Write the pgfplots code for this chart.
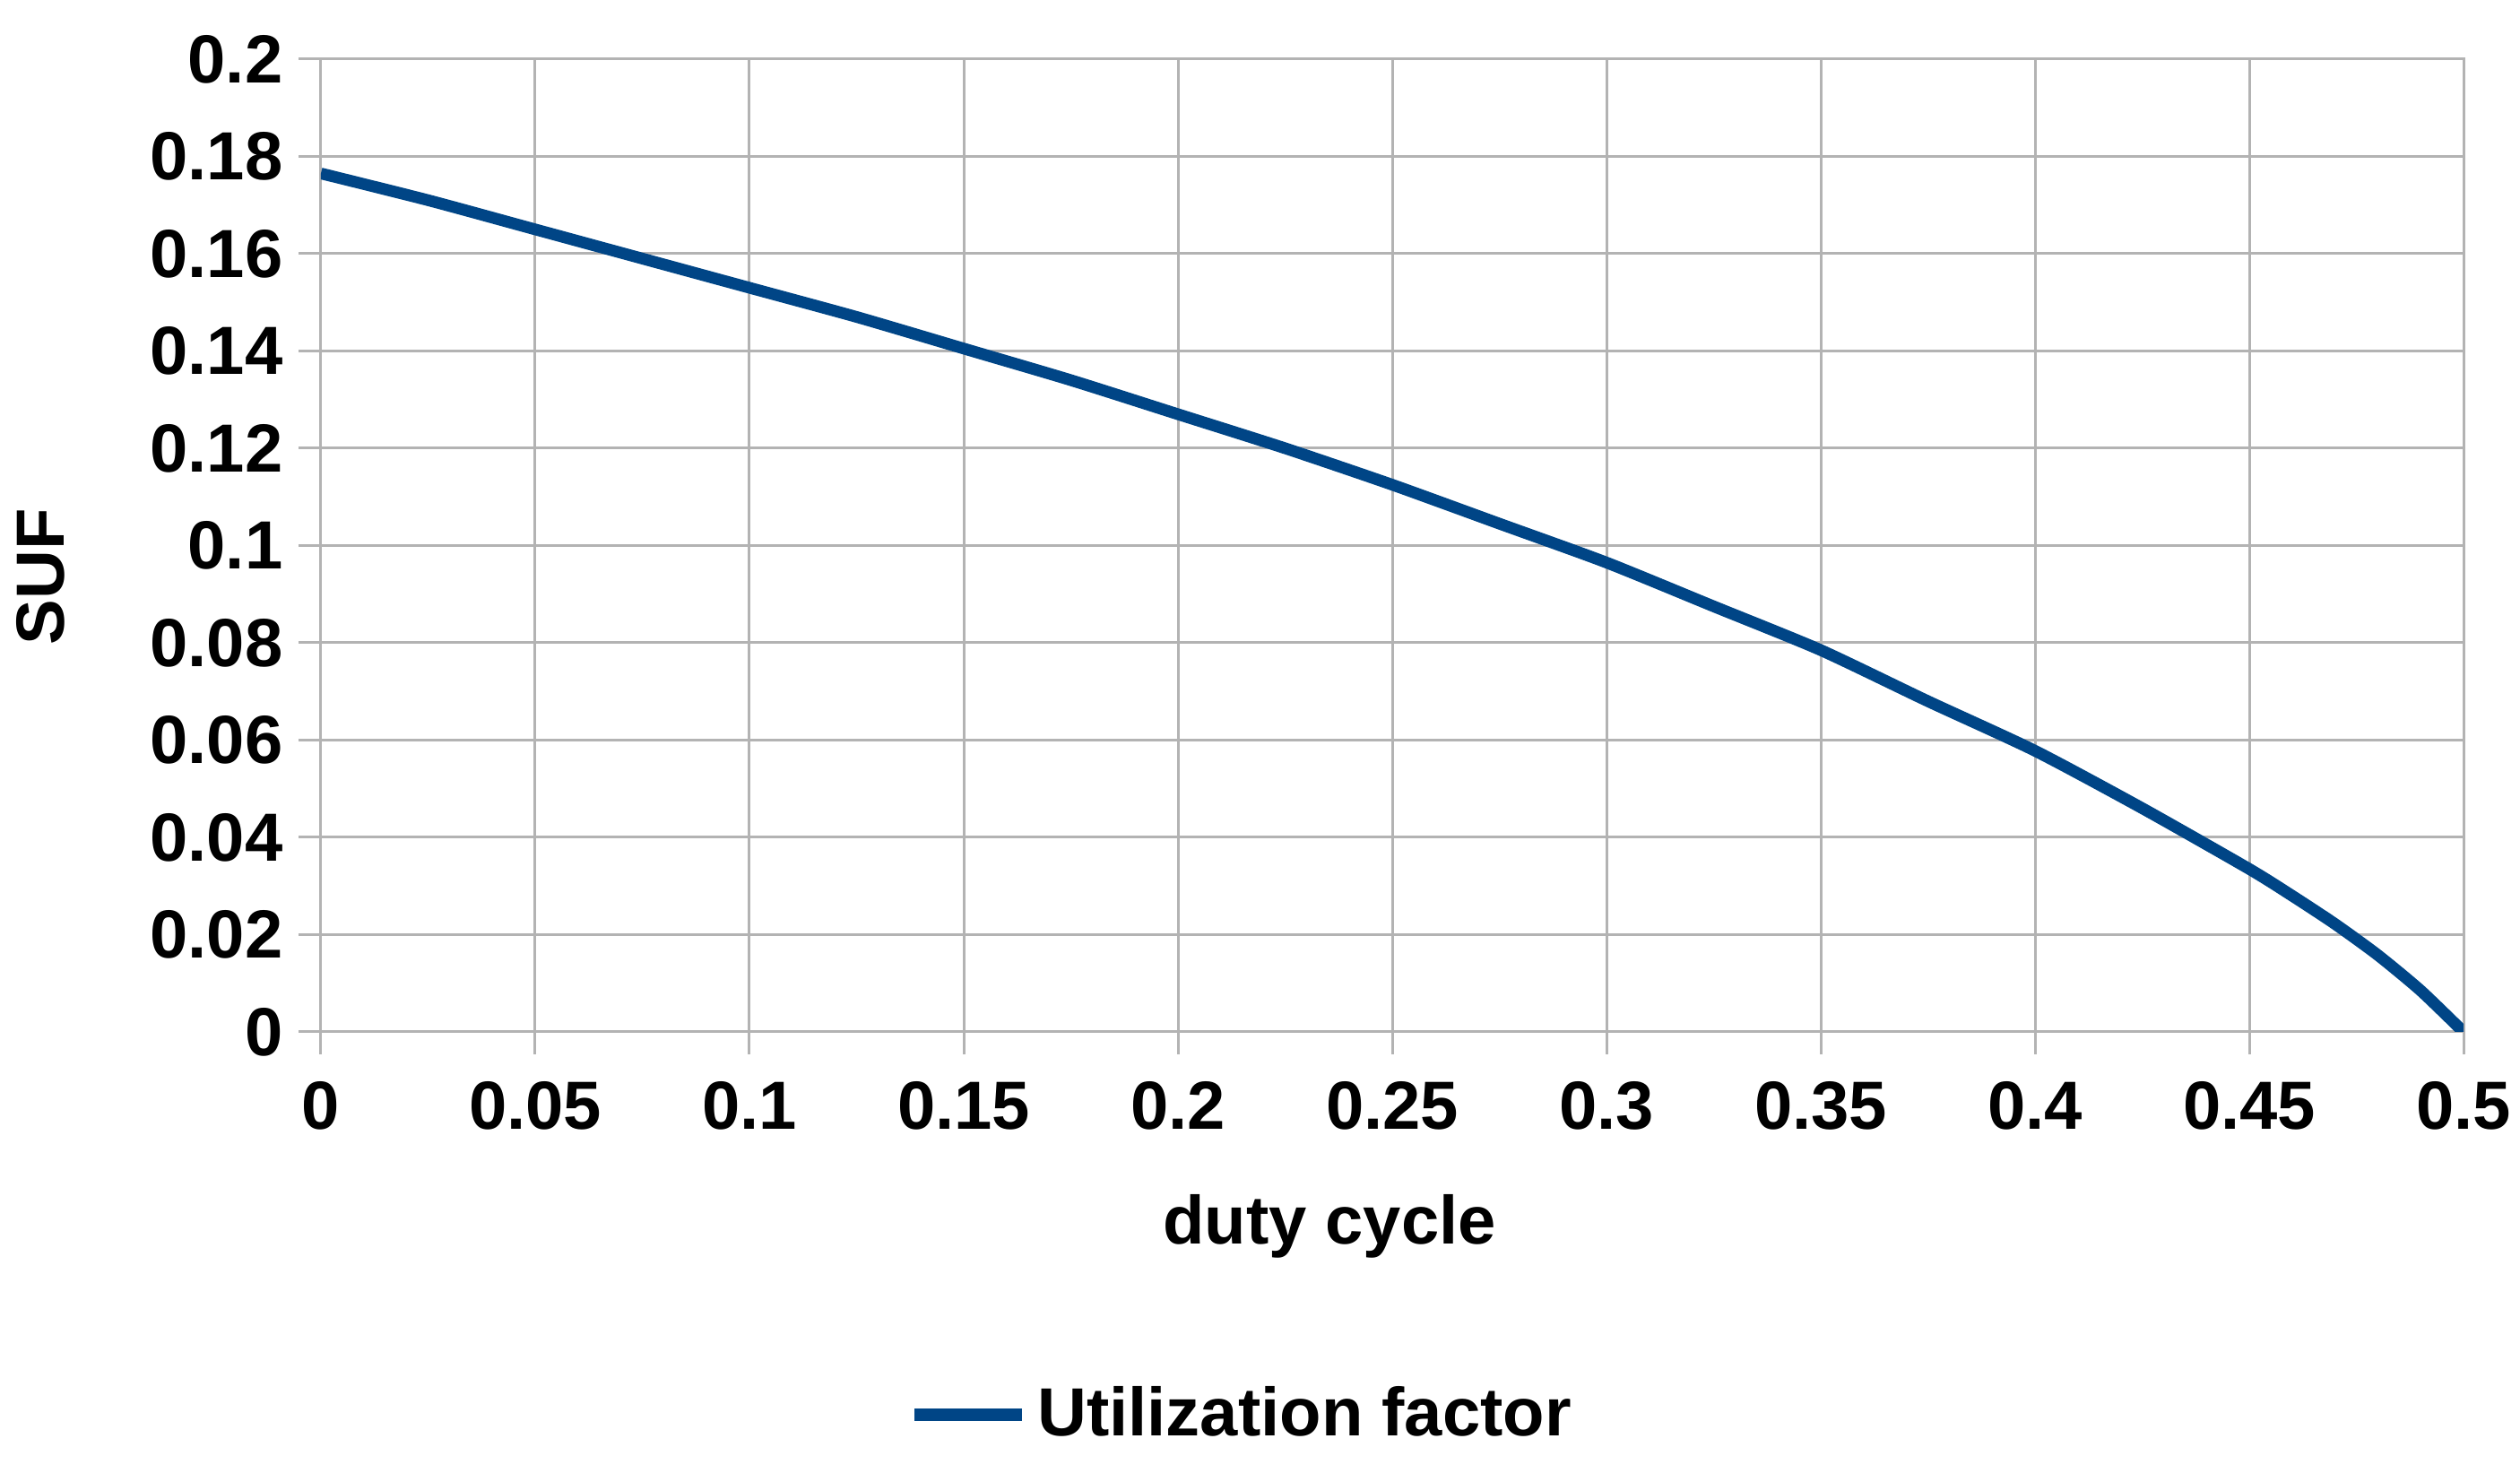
\documentclass[border=0pt]{standalone}
\usepackage{fontspec}
\setmainfont{Liberation Sans}
\usepackage{pgfplots}
\pgfplotsset{compat=1.18}
\usetikzlibrary{calc}
\definecolor{series}{RGB}{0,69,134}
\definecolor{gridgray}{RGB}{179,179,179}
\newcommand\chartfont{\bfseries\fontsize{15.2}{17}\selectfont}

\begin{document}
\begin{tikzpicture}
\begin{axis}[
  scale only axis,
  width=478pt, height=217pt,
  xmin=0, xmax=0.5, ymin=0, ymax=0.2,
  xtick={0,0.05,...,0.5},
  ytick={0,0.02,...,0.2},
  scaled ticks=false,
  /pgf/number format/assume math mode=true,
  xticklabel style={/pgf/number format/fixed,/pgf/number format/precision=2,yshift=-2.5pt},
  yticklabel style={/pgf/number format/fixed,/pgf/number format/precision=2},
  ticklabel style={font=\chartfont},
  grid=major,
  major grid style={gridgray,line width=0.6pt},
  axis line style={gridgray,line width=0.6pt},
  tick style={gridgray,line width=0.6pt},
  tick align=outside,
  major tick length=5pt,
  xtick pos=bottom, ytick pos=left,
  xlabel={duty cycle},
  ylabel={SUF},
  label style={font=\chartfont},
  xlabel style={at={(axis description cs:0.5,0)},anchor=center,yshift=-43.4pt,xshift=-14pt},
  ylabel style={at={(axis description cs:0,0.5)},anchor=center,yshift=62.6pt,xshift=-7pt},
  legend style={at={(axis description cs:0.5,0)},anchor=center,yshift=-85.4pt,xshift=-33pt,
    draw=none,font=\chartfont,legend columns=-1},
  legend image code/.code={\draw[#1,line width=2.8pt] (0pt,0pt) -- (24pt,0pt);},
]
\addplot[series, line width=2.6pt, smooth, tension=0.4] coordinates {
(0,0.1765) (0.025,0.171) (0.05,0.165) (0.075,0.159) (0.1,0.153)
(0.125,0.147) (0.15,0.1405) (0.175,0.134) (0.2,0.127) (0.225,0.120)
(0.25,0.1125) (0.275,0.1045) (0.3,0.0965) (0.325,0.0875) (0.35,0.0785)
(0.375,0.068) (0.4,0.0578) (0.425,0.046) (0.45,0.0335) (0.46,0.028)
(0.47,0.0222) (0.48,0.0158) (0.49,0.0085) (0.5,0.0)
};
\addlegendentry{Utilization factor}
\end{axis}
\pgfresetboundingbox
\path[use as bounding box] ($(current axis.south west)+(-71.6pt,-100.4pt)$) rectangle ($(current axis.north east)+(12.6pt,13.2pt)$);
\end{tikzpicture}
\end{document}
